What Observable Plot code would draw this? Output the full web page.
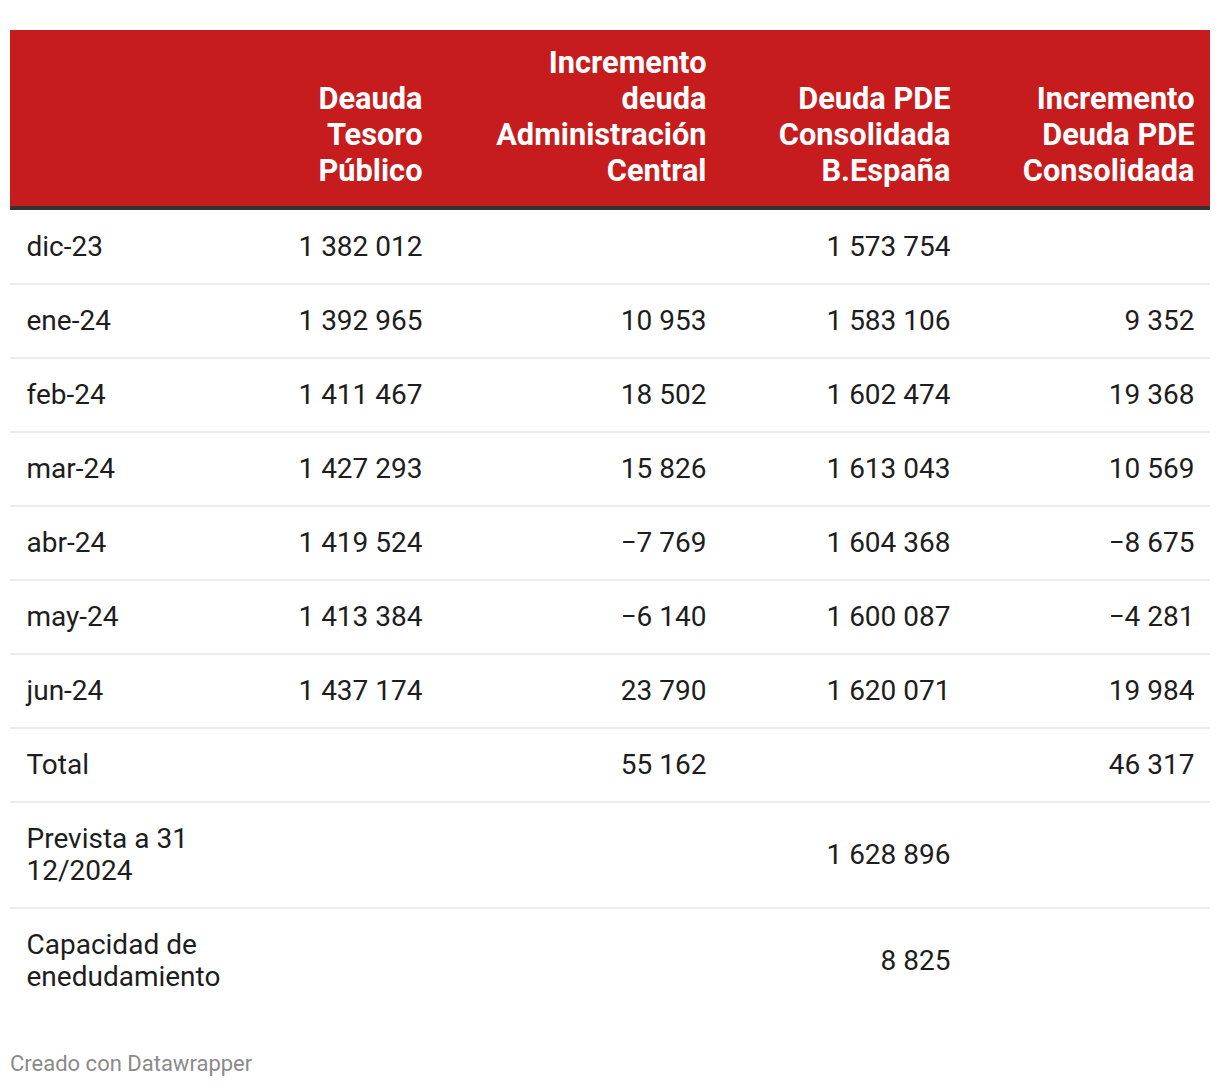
<!DOCTYPE html>
<html><head><meta charset="utf-8">
<script src="https://cdn.jsdelivr.net/npm/d3@7"></script>
<script src="https://cdn.jsdelivr.net/npm/@observablehq/plot@0.6"></script>
<style>
html,body{margin:0;padding:0;background:#fff;}
#chart svg{display:block;}
#footer{font-family:Roboto,sans-serif;font-size:22px;color:#8a8a8a;height:40px;line-height:40px;padding-left:10px;}
</style></head><body>
<div id="chart"></div>
<div id="footer">Creado con Datawrapper</div>
<script>
// ---- data ----
const columnHeaders = ["", "Deauda\nTesoro\nPúblico", "Incremento\ndeuda\nAdministración\nCentral", "Deuda PDE\nConsolidada\nB.España", "Incremento\nDeuda PDE\nConsolidada"];
const rowLabels = ["dic-23","ene-24","feb-24","mar-24","abr-24","may-24","jun-24","Total","Prevista a 31\n12/2024","Capacidad de\nenedudamiento"];
const deudaTesoro   = [1382012,1392965,1411467,1427293,1419524,1413384,1437174,null,null,null];
const incrementoAC  = [null,10953,18502,15826,-7769,-6140,23790,55162,null,null];
const deudaPDE      = [1573754,1583106,1602474,1613043,1604368,1600087,1620071,null,1628896,8825];
const incrementoPDE = [null,9352,19368,10569,-8675,-4281,19984,46317,null,null];

// ---- layout ----
const W = 1220, H = 1044;
const tableLeft = 10, tableRight = 1210;
const headerTop = 30, headerBottom = 206, ruleBottom = 210;
const colAnchors = [26, 422, 706, 950, 1194];
const headerLineH = 36, headerLastCenter = 171;
const lineH = 32, rowPad = 42;

const fmt = d3.formatLocale({decimal: ",", thousands: " ", grouping: [3], currency: ["", "€"], minus: "\u2212"}).format(",d");
const series = [deudaTesoro, incrementoAC, deudaPDE, incrementoPDE];

// rows layout
let rowTop = ruleBottom;
const rows = rowLabels.map((label, i) => {
  const lines = label.split("\n");
  const h = rowPad + lineH * lines.length;
  const r = {i, label, lines, top: rowTop, h, center: rowTop + h / 2};
  rowTop += h;
  return r;
});

// header text
const headerText = [];
columnHeaders.forEach((hd, c) => {
  if (!hd) return;
  const lines = hd.split("\n");
  lines.forEach((t, k) => headerText.push({x: colAnchors[c], y: headerLastCenter - (lines.length - 1 - k) * headerLineH, text: t}));
});

// body text
const labelText = [];
const valueText = [];
rows.forEach(r => {
  r.lines.forEach((t, k) => labelText.push({x: colAnchors[0], y: r.center + (k - (r.lines.length - 1) / 2) * lineH, text: t}));
  series.forEach((s, c) => {
    const v = s[r.i];
    if (v != null) valueText.push({x: colAnchors[c + 1], y: r.center, text: fmt(v)});
  });
});
const separators = rows.slice(0, -1).map(r => r.top + r.h - 0.5);

const chart = Plot.plot({
  width: W, height: H, margin: 0,
  x: {type: "identity", axis: null},
  y: {type: "identity", axis: null},
  style: {background: "#fff", fontFamily: "Roboto, sans-serif", color: "#222"},
  marks: [
    Plot.rect([{}], {x1: () => tableLeft, x2: () => tableRight, y1: () => headerTop, y2: () => headerBottom, fill: "#c61c1e"}),
    Plot.rect([{}], {x1: () => tableLeft, x2: () => tableRight, y1: () => headerBottom, y2: () => ruleBottom, fill: "#333"}),
    Plot.ruleY(separators, {y: d => d, x1: () => tableLeft, x2: () => tableRight, stroke: "#e6e6e6", strokeWidth: 1.5}),
    Plot.text(headerText, {x: "x", y: "y", text: "text", textAnchor: "end", fill: "#fff", fontWeight: "bold", fontSize: 30.75, lineAnchor: "middle"}),
    Plot.text(labelText, {x: "x", y: "y", text: "text", textAnchor: "start", fill: "#1d1d1d", fontSize: 28, lineAnchor: "middle"}),
    Plot.text(valueText, {x: "x", y: "y", text: "text", textAnchor: "end", fill: "#1d1d1d", fontSize: 28, lineAnchor: "middle"})
  ]
});
document.getElementById("chart").appendChild(chart);
</script>
</body></html>
